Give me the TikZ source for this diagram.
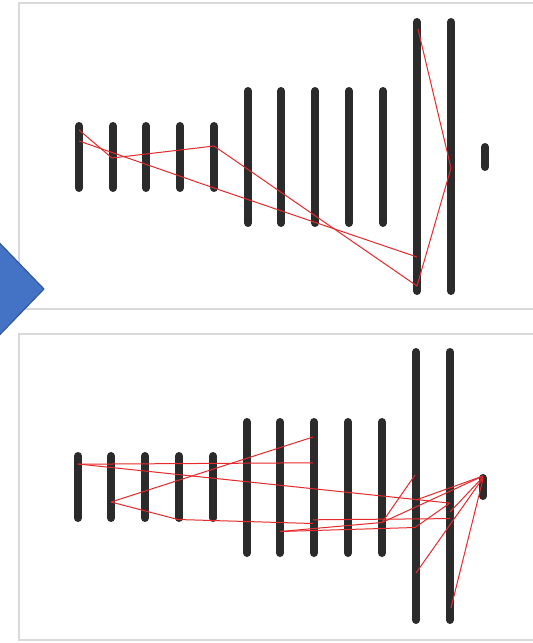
\documentclass[tikz,border=0pt]{standalone}
\definecolor{barink}{HTML}{2B2B2B}
\definecolor{raycol}{HTML}{E8282B}
\definecolor{framegray}{HTML}{D9D9D9}
\definecolor{arrowblue}{HTML}{4472C4}
\definecolor{arrowedge}{HTML}{2F528F}
\usepackage{tikz}

\begin{document}
\begin{tikzpicture}[x=1pt, y=-1pt,
  panel/.style={draw=framegray, line width=1.2pt, fill=white},
  bar/.style={draw=barink, line width=8pt, line cap=round},
  ray/.style={draw=raycol, line width=1pt, line join=round},
  chevron/.style={fill=arrowblue, draw=arrowedge, line width=1pt}]
  \useasboundingbox[fill=white] (0,0) rectangle (533,643);
  % Top panel
  \draw[panel] (19,3) rectangle (545,309);
  \foreach \x in {79,113,146,180,214} \draw[bar] (\x,126) -- (\x,188);
  \foreach \x in {248,281,315,349,383} \draw[bar] (\x,91) -- (\x,223);
  \foreach \x in {417,451} \draw[bar] (\x,22) -- (\x,291);
  \draw[bar] (485,147) -- (485,167);
  % Rays (top)
  \draw[ray] (79,130) -- (112,158) -- (214,146) -- (417,286) -- (451,168) -- (418,29);
  \draw[ray] (79,141) -- (214,188) -- (417,257);
  % Bottom panel
  \draw[panel] (19,334) rectangle (545,640);
  \foreach \x in {78,111,145,179,213} \draw[bar] (\x,456) -- (\x,518);
  \foreach \x in {247,280,314,348,382} \draw[bar] (\x,422) -- (\x,553);
  \foreach \x in {416,450} \draw[bar] (\x,352) -- (\x,620);
  \draw[bar] (483,478) -- (483,496);
  % Rays (bottom)
  \draw[ray] (78,464.2) -- (313,462.8);
  \draw[ray] (78,464) -- (449,503);
  \draw[ray] (111,502) -- (313,437);
  \draw[ray] (111,502) -- (178,519.5) -- (313,523.5);
  \draw[ray] (313,519.8) -- (450,518.6);
  \draw[ray] (280,531.5) -- (382,522.5) -- (415,475);
  \draw[ray] (280,531.5) -- (415,527.5) -- (450,503);
  \draw[ray] (382,522.5) -- (483,476);
  \draw[ray] (416,500) -- (483,476);
  \draw[ray] (450,512) -- (483,477);
  \draw[ray] (416,573) -- (483,478);
  \draw[ray] (451,608) -- (483,479);
  % Arrow between panels
  \draw[chevron] (-12,231) -- (44,289) -- (-12,347) -- cycle;
\end{tikzpicture}
\end{document}
